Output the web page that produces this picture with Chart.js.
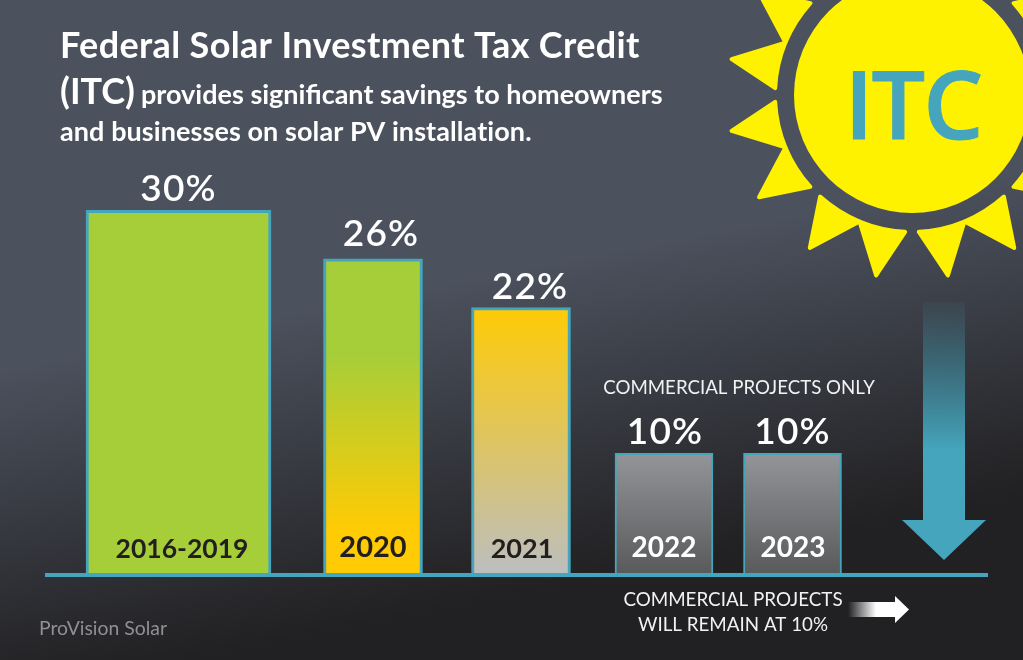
<!DOCTYPE html>
<html>
<head>
<meta charset="utf-8">
<title>Federal Solar Investment Tax Credit</title>
<script src="https://cdn.jsdelivr.net/npm/chart.js@4"></script>
<style>
html, body { margin: 0; padding: 0; background: #212022; }
canvas { display: block; }
</style>
</head>
<body>
<canvas id="itcChart" width="1023" height="660"></canvas>
<script>
const categories = ['2016-2019', '2020', '2021', '2022', '2023'];
const rates = [30, 26, 22, 10, 10];

// layout, kept apart from the data. x scale runs in page pixels
const barCenters = [178.5, 373, 521, 664, 792.5];
const barWidths = [185, 99, 99, 98, 98];
const borderWidths = [3, 3, 3, 2, 2];
const tickCenters = [182, 373, 522, 664, 793];
const tickSizes = [26.5, 29, 27, 28, 28];
const labelShift = [0, 8, 9, 1, 0];
const labelLift = [0, 4, 0, 0, 0];
const tickColors = ['#231f20', '#231f20', '#231f20', '#ffffff', '#ffffff'];
const barColors = [
    ['#a6ce39', '#a6ce39'],
    ['#a6ce39', '#ffcb05'],
    ['#ffcb05', '#bcbec0'],
    ['#939598', '#58595b'],
    ['#939598', '#58595b']
];

const TEAL = '#45a5bd';
const FONT = 'Lato, sans-serif';

const drawSun = (ctx) => {
    const cx = 912, cy = 95;
    ctx.save();
    ctx.fillStyle = '#fff200';
    ctx.strokeStyle = '#fff200';
    ctx.lineWidth = 4;
    ctx.lineJoin = 'round';
    for (let i = 0; i < 16; i++) {
        // rays come in pairs, touching at odd multiples of 22.5deg
        const from = i * Math.PI / 8 + (i % 2 === 0 ? 0.05 : 0);
        const to = (i + 1) * Math.PI / 8 - (i % 2 === 1 ? 0.05 : 0);
        const mid = (i + 0.5) * Math.PI / 8;
        ctx.beginPath();
        ctx.arc(cx, cy, 137, from, to);
        ctx.lineTo(cx + 184 * Math.cos(mid), cy + 184 * Math.sin(mid));
        ctx.closePath();
        ctx.fill();
        ctx.stroke();
    }
    ctx.beginPath();
    ctx.arc(cx, cy, 118, 0, Math.PI * 2);
    ctx.fill();
    ctx.fillStyle = TEAL;
    ctx.strokeStyle = TEAL;
    ctx.lineWidth = 1;
    ctx.font = '600 95px "Open Sans", sans-serif';
    ctx.letterSpacing = '-2px';
    ctx.textAlign = 'center';
    ctx.textBaseline = 'alphabetic';
    ctx.fillText('ITC', 913, 139);
    ctx.strokeText('ITC', 913, 139);
    ctx.restore();
};

const drawArrows = (ctx) => {
    ctx.save();
    const down = ctx.createLinearGradient(0, 302, 0, 450);
    down.addColorStop(0, 'rgba(69,165,189,0.05)');
    down.addColorStop(1, 'rgba(69,165,189,1)');
    ctx.fillStyle = down;
    ctx.fillRect(923, 302, 42, 218);
    ctx.fillStyle = TEAL;
    ctx.beginPath();
    ctx.moveTo(902, 520);
    ctx.lineTo(986, 520);
    ctx.lineTo(944, 560);
    ctx.closePath();
    ctx.fill();

    const right = ctx.createLinearGradient(848, 0, 876, 0);
    right.addColorStop(0, 'rgba(255,255,255,0)');
    right.addColorStop(1, 'rgba(255,255,255,1)');
    ctx.fillStyle = right;
    ctx.fillRect(848, 602, 48, 15);
    ctx.fillStyle = '#ffffff';
    ctx.beginPath();
    ctx.moveTo(895, 596);
    ctx.lineTo(909, 609.5);
    ctx.lineTo(895, 623);
    ctx.closePath();
    ctx.fill();
    ctx.restore();
};

const drawText = (ctx, text, x, y, font, color, align, spacing) => {
    ctx.font = font;
    ctx.fillStyle = color;
    ctx.textAlign = align || 'left';
    ctx.textBaseline = 'alphabetic';
    ctx.letterSpacing = spacing || '0px';
    ctx.fillText(text, x, y);
};

const decorations = {
    id: 'decorations',
    beforeDraw(chart) {
        const ctx = chart.ctx;
        const bg = ctx.createLinearGradient(0, 370, 61, 683);
        bg.addColorStop(0, '#4b515d');
        bg.addColorStop(1, '#212022');
        ctx.save();
        ctx.fillStyle = bg;
        ctx.fillRect(0, 0, chart.width, chart.height);
        drawSun(ctx);
        drawArrows(ctx);
        drawText(ctx, 'Federal Solar Investment Tax Credit', 60, 58, `700 36px ${FONT}`, '#ffffff', 'left', '0.35px');
        drawText(ctx, '(ITC)', 60, 104, `700 36px ${FONT}`, '#ffffff');
        drawText(ctx, 'provides significant savings to homeowners', 141, 104, `700 27px ${FONT}`, '#ffffff');
        drawText(ctx, 'and businesses on solar PV installation.', 60, 141, `700 27px ${FONT}`, '#ffffff', 'left', '0.08px');
        drawText(ctx, 'COMMERCIAL PROJECTS ONLY', 739, 394, `400 18.7px ${FONT}`, '#f1f2f2', 'center');
        drawText(ctx, 'COMMERCIAL PROJECTS', 733, 606, `400 18.8px ${FONT}`, '#f1f2f2', 'center');
        drawText(ctx, 'WILL REMAIN AT 10%', 733, 631, `400 18.8px ${FONT}`, '#f1f2f2', 'center');
        drawText(ctx, 'ProVision Solar', 39, 635, `400 19.4px ${FONT}`, '#8f9094');
        ctx.restore();
    },
    afterDatasetsDraw(chart) {
        const ctx = chart.ctx;
        ctx.save();
        chart.data.datasets.forEach((ds, i) => {
            const bar = chart.getDatasetMeta(i).data[0];
            drawText(ctx, rates[i] + '%', bar.x + labelShift[i], bar.y - 9 - labelLift[i], `600 37px ${FONT}`, '#ffffff', 'center', '1.2px');
        });
        ctx.restore();
    }
};

const barGradient = (i) => (c) => {
    const { chartArea, scales } = c.chart;
    if (!chartArea) return barColors[i][0];
    const g = c.chart.ctx.createLinearGradient(0, scales.y.getPixelForValue(rates[i]), 0, chartArea.bottom);
    g.addColorStop(i === 1 ? 0.3 : 0, barColors[i][0]);
    g.addColorStop(i === 1 ? 0.85 : 1, barColors[i][1]);
    return g;
};

new Chart(document.getElementById('itcChart'), {
    type: 'bar',
    data: {
        labels: categories,
        datasets: categories.map((name, i) => ({
            label: name,
            data: [{ x: barCenters[i], y: rates[i] }],
            grouped: false,
            barThickness: barWidths[i],
            backgroundColor: barGradient(i),
            borderColor: TEAL,
            borderWidth: borderWidths[i],
            borderSkipped: 'bottom'
        }))
    },
    options: {
        responsive: false,
        animation: false,
        layout: { padding: { left: 47, right: 36, top: 0, bottom: 85 } },
        plugins: { legend: { display: false }, tooltip: { enabled: false } },
        scales: {
            x: {
                type: 'linear',
                offset: false,
                min: 47,
                max: 987,
                grid: { display: false },
                border: { display: true, color: TEAL, width: 4, z: 1 },
                afterBuildTicks(scale) {
                    scale.ticks = tickCenters.map(v => ({ value: v }));
                },
                afterFit(scale) {
                    scale.height = 0;
                },
                ticks: {
                    z: 1,
                    // mirror skips the clip to the zero-height axis box, and flips padding
                    mirror: true,
                    autoSkip: false,
                    maxRotation: 0,
                    padding: 10,
                    callback: (value, index) => categories[index],
                    color: (c) => tickColors[c.index],
                    font: (c) => ({ family: 'Lato', size: tickSizes[c.index], weight: '700' })
                }
            },
            y: { display: false, min: 0, max: 47.3 }
        }
    },
    plugins: [decorations]
});
</script>
</body>
</html>
